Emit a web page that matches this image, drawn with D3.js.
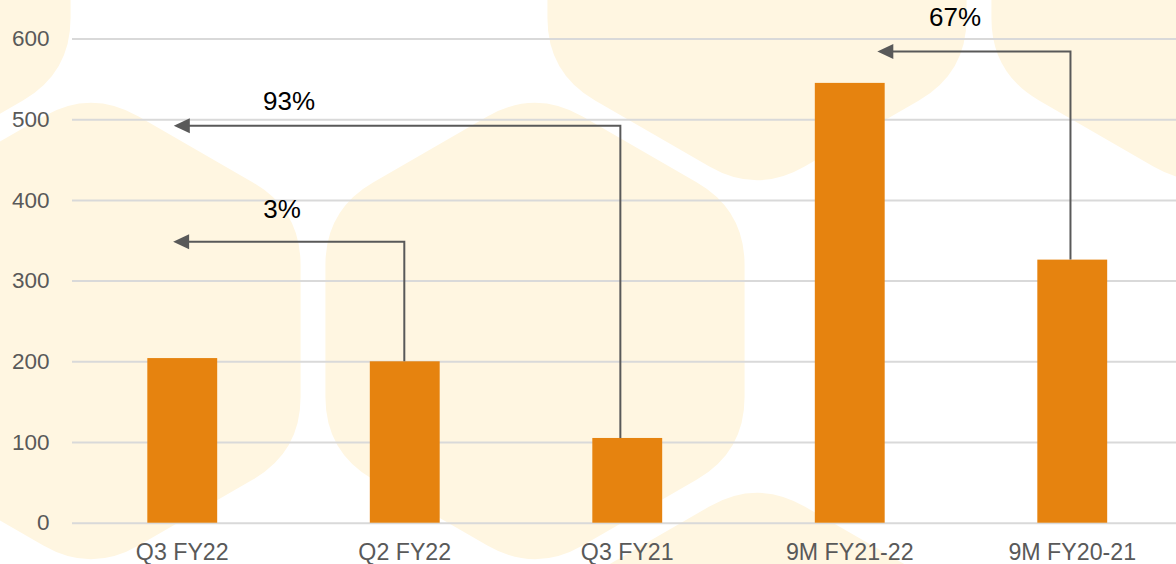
<!DOCTYPE html>
<html>
<head>
<meta charset="utf-8">
<script src="https://cdn.jsdelivr.net/npm/d3@7"></script>
<style>
  html, body { margin: 0; padding: 0; background: #ffffff; }
  svg { display: block; font-family: "Liberation Sans", Arial, sans-serif; }
</style>
</head>
<body>
<svg id="chart" width="1176" height="564"></svg>
<script>
// ---- data ----
const categories = ["Q3 FY22", "Q2 FY22", "Q3 FY21", "9M FY21-22", "9M FY20-21"];
const values = [204, 200, 105, 545, 326];
const yTicks = [0, 100, 200, 300, 400, 500, 600];

// growth annotations (positions in category-index units / value units)
const growthLabels = ["3%", "93%", "67%"];
const growthFrom = [0.998, 1.969, 3.992];      // vertical connector position (category index)
const growthFromValue = [200, 105, 326];       // start of connector (bar top value)
const growthLevel = [348, 492, 584];           // horizontal connector level (value)
const growthTo = [-0.041, -0.038, 3.124];      // arrow tip (category index)
const growthLabelPos = [0.449, 0.480, 3.473];  // label centre (category index)
const growthLabelValue = [378, 511, 615];      // label baseline (value)

// ---- layout ----
const W = 1176, H = 564;
const svg = d3.select("#chart");

// background decorative hexagons
const hexR = 242, hexCut = 55;
const hexCenters = [[-139, -48], [757, -48], [1201, -48], [91, 331], [535, 331], [757, 721]];
function roundedHex(cx, cy) {
  const v = d3.range(6).map(i => {
    const a = (-90 + 60 * i) * Math.PI / 180;
    return [cx + hexR * Math.cos(a), cy + hexR * Math.sin(a)];
  });
  const t = hexCut / hexR;
  const lerp = (p, q, k) => [p[0] + (q[0] - p[0]) * k, p[1] + (q[1] - p[1]) * k];
  const p = d3.path();
  const out0 = lerp(v[0], v[1], t);
  p.moveTo(out0[0], out0[1]);
  for (let j = 1; j <= 6; j++) {
    const i = j % 6;
    const prev = v[(i + 5) % 6], next = v[(i + 1) % 6];
    const pin = lerp(v[i], prev, t), pout = lerp(v[i], next, t);
    p.lineTo(pin[0], pin[1]);
    p.quadraticCurveTo(v[i][0], v[i][1], pout[0], pout[1]);
  }
  p.closePath();
  return p.toString();
}
svg.append("g").selectAll("path").data(hexCenters).join("path")
  .attr("d", d => roundedHex(d[0], d[1]))
  .attr("fill", "#fff6e1");

// scales
const y = d3.scaleLinear().domain([0, 600]).range([522.7, 38.5]);
const x = d3.scaleBand().domain(categories).range([71, 1183.5])
  .paddingInner(0.686).paddingOuter(0.343);
const bw = x.bandwidth();
const pos = d3.scaleLinear().domain([0, categories.length - 1])
  .range([x(categories[0]) + bw / 2, x(categories[categories.length - 1]) + bw / 2]);

// y axis with gridlines
const gridLeft = 72;
const yAxis = svg.append("g")
  .attr("transform", `translate(${gridLeft},0)`)
  .call(d3.axisLeft(y).tickValues(yTicks).tickSizeInner(-(W - gridLeft)).tickSizeOuter(0).tickPadding(22.5));
yAxis.select(".domain").remove();
yAxis.selectAll(".tick line").attr("stroke", "#d9d9d9").attr("stroke-width", 2);
yAxis.selectAll(".tick text").attr("fill", "#595959").style("font-size", "22.5px")
  .style("font-family", "'Liberation Sans', Arial, sans-serif");

// bars
svg.append("g").selectAll("rect").data(values).join("rect")
  .attr("x", (d, i) => x(categories[i]))
  .attr("y", d => y(d))
  .attr("width", bw)
  .attr("height", d => y(0) - y(d))
  .attr("fill", "#e6830f");

// x axis labels
const xAxis = svg.append("g")
  .attr("transform", `translate(0,${y(0)})`)
  .call(d3.axisBottom(x).tickSize(0).tickPadding(20.5));
xAxis.select(".domain").remove();
xAxis.selectAll(".tick text").attr("fill", "#595959").style("font-size", "23.2px")
  .style("font-family", "'Liberation Sans', Arial, sans-serif");

// growth connectors
const ann = svg.append("g");
const headLen = 16, headHalf = 7.5;
growthLabels.forEach((lab, i) => {
  const xf = pos(growthFrom[i]);
  const y0 = y(growthFromValue[i]);
  const yl = y(growthLevel[i]);
  const xt = pos(growthTo[i]);
  ann.append("path")
    .attr("d", `M${xf},${y0}V${yl}H${xt + headLen - 1}`)
    .attr("fill", "none").attr("stroke", "#595959").attr("stroke-width", 2);
  ann.append("path")
    .attr("d", `M${xt},${yl}L${xt + headLen},${yl - headHalf}L${xt + headLen},${yl + headHalf}Z`)
    .attr("fill", "#595959");
  ann.append("text")
    .attr("x", pos(growthLabelPos[i]))
    .attr("y", y(growthLabelValue[i]))
    .attr("text-anchor", "middle")
    .attr("fill", "#000000")
    .style("font-size", "26px")
    .text(lab);
});
</script>
</body>
</html>
